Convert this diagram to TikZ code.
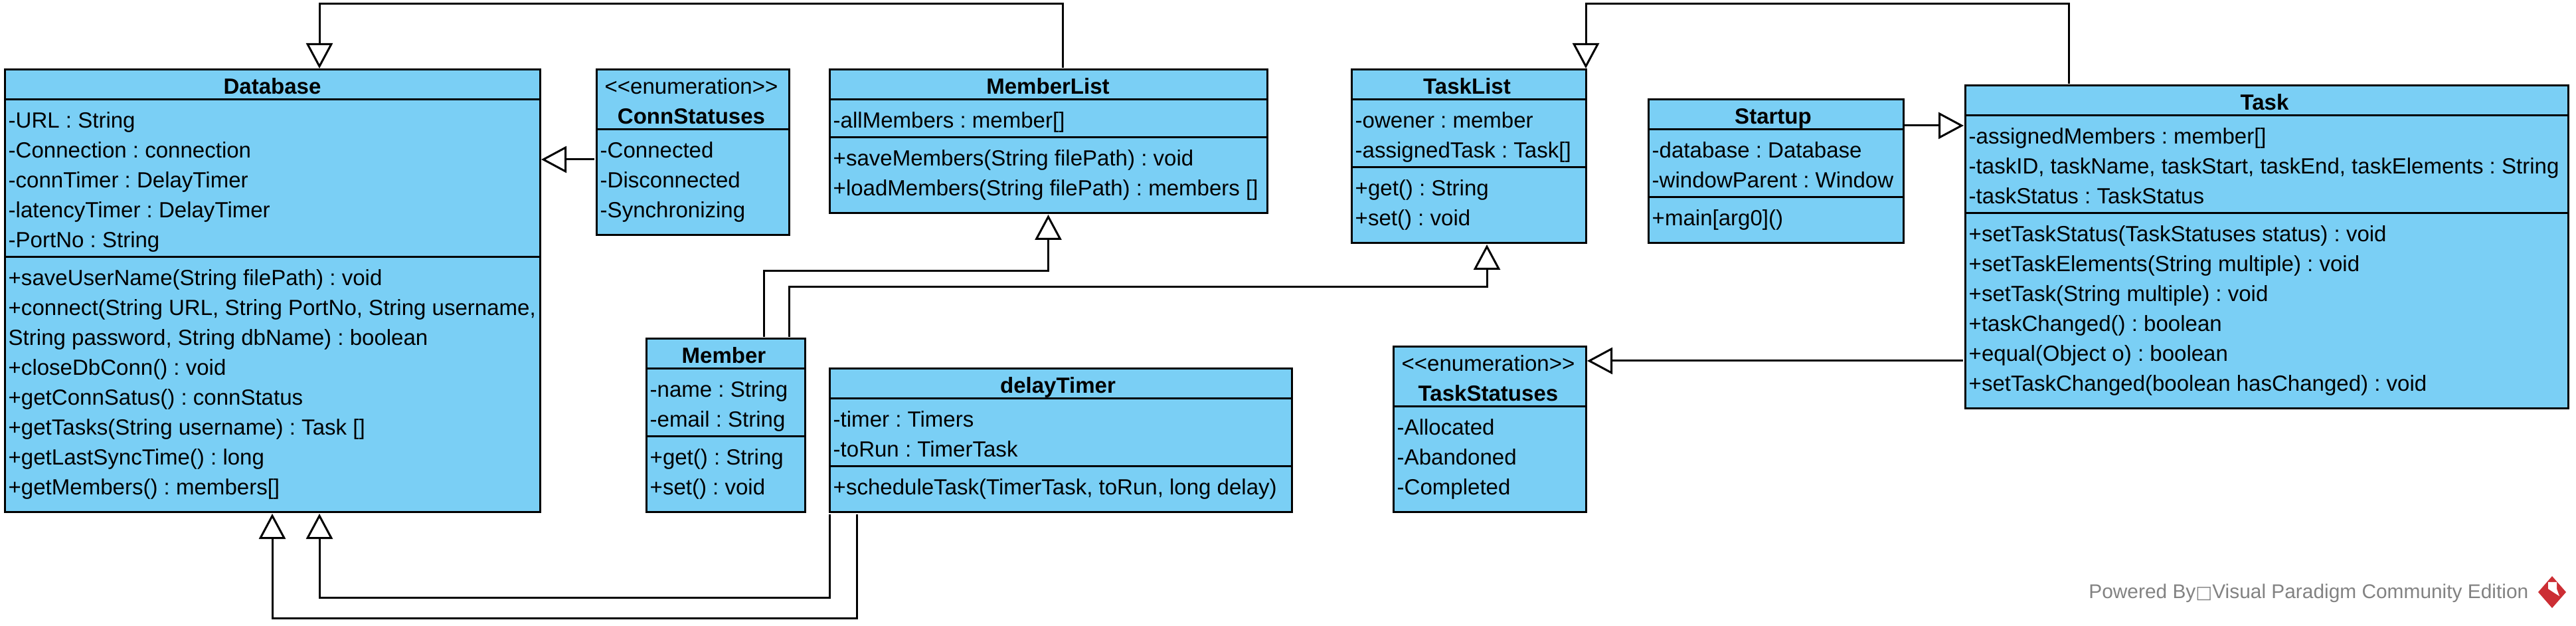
\documentclass[tikz,border=0pt]{standalone}
\usepackage{fontspec}
\setmainfont{Liberation Sans}
\newfontfamily\boxfont{DejaVu Sans}
\usetikzlibrary{arrows.meta}
\definecolor{classblue}{RGB}{122,207,245}
\definecolor{markgray}{RGB}{130,130,130}
\definecolor{markred}{RGB}{204,46,52}
\tikzset{
    classbox/.style={draw, fill=classblue, line width=0.03cm, outer sep=0, inner sep=0, anchor=north west},
    classline/.style={line width=0.03cm},
    classname/.style={font=\frenchspacing\fontsize{9.4}{12.8}\selectfont\bfseries, inner sep=0, text height=0.24cm, text depth=0cm},
    classtext/.style={font=\frenchspacing\fontsize{9.4}{12.8}\selectfont, align=left, inner xsep=0.05cm, inner ysep=0, anchor=north west, yshift=-0.005cm},
    genarrow/.style={line width=0.03cm, shorten >=0.02cm, -{Triangle[open, length=0.38cm, width=0.40cm, fill=white]}},
}

\begin{document}
\begin{tikzpicture}
    \useasboundingbox (0, 0) rectangle (38.79, -9.42);

    \node [classbox, minimum width=8.06cm, minimum height=6.66cm] (database) at (0.07, -1.05) {};
    \node [classname] (databasename) at (4.10, -1.30) {Database};
    \draw [classline] (database.west |- 0, -1.50) -- (database.east |- 0, -1.50);
    \draw [classline] (database.west |- 0, -3.87) -- (database.east |- 0, -3.87);
    \node [classtext] (databaseattrs) at (0.07, -1.67) {-URL : String\\-Connection : connection\\-connTimer : DelayTimer\\-latencyTimer : DelayTimer\\-PortNo : String};
    \node [classtext] (databaseops) at (0.07, -4.04) {+saveUserName(String filePath) : void\\+connect(String URL, String PortNo, String username,\\String password, String dbName) : boolean\\+closeDbConn() : void\\+getConnSatus() : connStatus\\+getTasks(String username) : Task []\\+getLastSyncTime() : long\\+getMembers() : members[]};

    \node [classbox, minimum width=2.90cm, minimum height=2.49cm] (connstatuses) at (8.98, -1.05) {};
    \node [classname, font=\fontsize{9.4}{12.8}\selectfont] (connstereo) at (10.41, -1.30) {<{}<enumeration>{}>};
    \node [classname] (connname) at (10.41, -1.75) {ConnStatuses};
    \draw [classline] (connstatuses.west |- 0, -1.95) -- (connstatuses.east |- 0, -1.95);
    \node [classtext] (connattrs) at (8.98, -2.12) {-Connected\\-Disconnected\\-Synchronizing};

    \node [classbox, minimum width=6.59cm, minimum height=2.16cm] (memberlist) at (12.49, -1.05) {};
    \node [classname] (memberlistname) at (15.78, -1.30) {MemberList};
    \draw [classline] (memberlist.west |- 0, -1.50) -- (memberlist.east |- 0, -1.50);
    \draw [classline] (memberlist.west |- 0, -2.07) -- (memberlist.east |- 0, -2.07);
    \node [classtext] (memberlistattrs) at (12.49, -1.67) {-allMembers : member[]};
    \node [classtext] (memberlistops) at (12.49, -2.24) {+saveMembers(String filePath) : void\\+loadMembers(String filePath) : members []};

    \node [classbox, minimum width=3.53cm, minimum height=2.61cm] (tasklist) at (20.35, -1.05) {};
    \node [classname] (tasklistname) at (22.09, -1.30) {TaskList};
    \draw [classline] (tasklist.west |- 0, -1.50) -- (tasklist.east |- 0, -1.50);
    \draw [classline] (tasklist.west |- 0, -2.52) -- (tasklist.east |- 0, -2.52);
    \node [classtext] (tasklistattrs) at (20.35, -1.67) {-owener : member\\-assignedTask : Task[]};
    \node [classtext] (tasklistops) at (20.35, -2.69) {+get() : String\\+set() : void};

    \node [classbox, minimum width=3.84cm, minimum height=2.16cm] (startup) at (24.82, -1.50) {};
    \node [classname] (startupname) at (26.70, -1.75) {Startup};
    \draw [classline] (startup.west |- 0, -1.95) -- (startup.east |- 0, -1.95);
    \draw [classline] (startup.west |- 0, -2.97) -- (startup.east |- 0, -2.97);
    \node [classtext] (startupattrs) at (24.82, -2.12) {-database : Database\\-windowParent : Window};
    \node [classtext] (startupops) at (24.82, -3.14) {+main[arg0]()};

    \node [classbox, minimum width=9.08cm, minimum height=4.86cm] (task) at (29.59, -1.29) {};
    \node [classname] (taskname) at (34.10, -1.54) {Task};
    \draw [classline] (task.west |- 0, -1.74) -- (task.east |- 0, -1.74);
    \draw [classline] (task.west |- 0, -3.21) -- (task.east |- 0, -3.21);
    \node [classtext] (taskattrs) at (29.59, -1.91) {-assignedMembers : member[]\\-taskID, taskName, taskStart, taskEnd, taskElements : String\\-taskStatus : TaskStatus};
    \node [classtext] (taskops) at (29.59, -3.38) {+setTaskStatus(TaskStatuses status) : void\\+setTaskElements(String multiple) : void\\+setTask(String multiple) : void\\+taskChanged() : boolean\\+equal(Object o) : boolean\\+setTaskChanged(boolean hasChanged) : void};

    \node [classbox, minimum width=2.39cm, minimum height=2.61cm] (member) at (9.73, -5.10) {};
    \node [classname] (membername) at (10.90, -5.35) {Member};
    \draw [classline] (member.west |- 0, -5.55) -- (member.east |- 0, -5.55);
    \draw [classline] (member.west |- 0, -6.57) -- (member.east |- 0, -6.57);
    \node [classtext] (memberattrs) at (9.73, -5.72) {-name : String\\-email : String};
    \node [classtext] (memberops) at (9.73, -6.74) {+get() : String\\+set() : void};

    \node [classbox, minimum width=6.96cm, minimum height=2.16cm] (delaytimer) at (12.49, -5.55) {};
    \node [classname] (delaytimername) at (15.93, -5.80) {delayTimer};
    \draw [classline] (delaytimer.west |- 0, -6.00) -- (delaytimer.east |- 0, -6.00);
    \draw [classline] (delaytimer.west |- 0, -7.02) -- (delaytimer.east |- 0, -7.02);
    \node [classtext] (delaytimerattrs) at (12.49, -6.17) {-timer : Timers\\-toRun : TimerTask};
    \node [classtext] (delaytimerops) at (12.49, -7.19) {+scheduleTask(TimerTask, toRun, long delay)};

    \node [classbox, minimum width=2.90cm, minimum height=2.49cm] (taskstatuses) at (20.98, -5.22) {};
    \node [classname, font=\fontsize{9.4}{12.8}\selectfont] (taskstereo) at (22.41, -5.47) {<{}<enumeration>{}>};
    \node [classname] (taskstatusesname) at (22.41, -5.92) {TaskStatuses};
    \draw [classline] (taskstatuses.west |- 0, -6.12) -- (taskstatuses.east |- 0, -6.12);
    \node [classtext] (taskstatusesattrs) at (20.98, -6.29) {-Allocated\\-Abandoned\\-Completed};

    \draw [genarrow] ([xshift=0.22cm, yshift=0.03cm]memberlist.north) -- ++(0, 0.96) -| ([xshift=0.71cm]database.north);
    \draw [genarrow] ([xshift=-0.03cm]connstatuses.west |- 0, -2.40) -- (database.east |- 0, -2.40);
    \draw [genarrow] ([xshift=0.575cm, yshift=0.03cm]member.north) -- ++(0, 0.99) -| (memberlist.south);
    \draw [genarrow] ([xshift=0.955cm, yshift=0.03cm]member.north) -- ++(0, 0.75) -| ([xshift=0.275cm]tasklist.south);
    \draw [genarrow] ([yshift=-0.03cm]delaytimer.south west) -- ++(0, -1.26) -| ([xshift=0.71cm]database.south);
    \draw [genarrow] ([xshift=0.41cm, yshift=-0.03cm]delaytimer.south west) -- ++(0, -1.56) -| (database.south);
    \draw [genarrow] ([xshift=-2.98cm, yshift=0.03cm]task.north) -- ++(0, 1.20) -| (tasklist.north east);
    \draw [genarrow] ([xshift=0.02cm]startup.east |- 0, -1.89) -- (task.west |- 0, -1.89);
    \draw [genarrow] ([xshift=-0.03cm]task.west |- 0, -5.43) -- (taskstatuses.east |- 0, -5.43);

    \node [font=\frenchspacing\fontsize{8.5}{10}\selectfont, text=markgray, inner sep=0, anchor=east] (poweredby) at (38.08, -8.93) {Powered By{\boxfont\fontsize{7.5}{10}\selectfont □}Visual Paradigm Community Edition};
    \fill [markred] (38.43, -8.67) -- (38.64, -8.91) -- (38.43, -9.15) -- (38.22, -8.91) -- cycle;
    \fill [white] (38.37, -8.76) -- (38.50, -8.76) -- (38.50, -8.86) -- (38.54, -8.97) -- (38.46, -8.92) -- (38.37, -8.86) -- cycle;
\end{tikzpicture}
\end{document}
